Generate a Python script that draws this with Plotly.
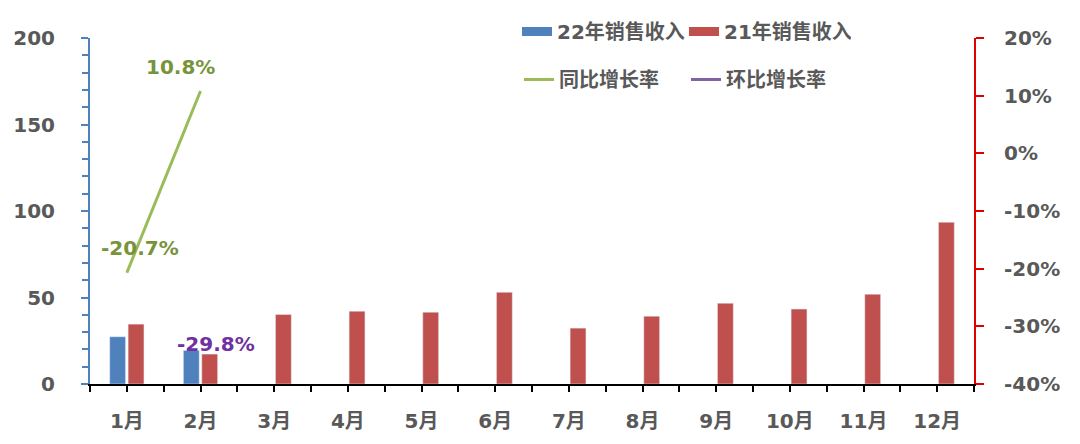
import plotly.graph_objects as go

months = ["1月", "2月", "3月", "4月", "5月", "6月", "7月", "8月", "9月", "10月", "11月", "12月"]
sales_22 = [27.3, 19.4, None, None, None, None, None, None, None, None, None, None]
sales_21 = [34.6, 17.3, 40.2, 42.1, 41.5, 53.0, 32.3, 39.2, 46.7, 43.3, 51.9, 93.5]
yoy = [-20.7, 10.8, None, None, None, None, None, None, None, None, None, None]
mom = [None, -29.8, None, None, None, None, None, None, None, None, None, None]
left_ticks = [0, 50, 100, 150, 200]
right_ticks = [-40, -30, -20, -10, 0, 10, 20]
right_labels = [f"{v}%" for v in right_ticks]

xs = list(range(len(months)))
FONT = "DejaVu Sans, Noto Sans CJK SC"
GRAY = "#595959"
BLUE, RED, GREEN, PURPLE = "#4F81BD", "#C0504D", "#9BBB59", "#8064A2"

fig = go.Figure()
fig.add_trace(go.Bar(x=xs, y=sales_22, name="22年销售收入", marker_color=BLUE,
                     showlegend=False, legendgroup="b22"))
fig.add_trace(go.Bar(x=xs, y=sales_21, name="21年销售收入", marker_color=RED,
                     showlegend=False, legendgroup="b21"))
# legend keys drawn as wide flat swatches (like the reference)
fig.add_trace(go.Scatter(x=[None], y=[None], name="22年销售收入", mode="lines",
                         line=dict(color=BLUE, width=9), legend="legend", legendgroup="b22"))
fig.add_trace(go.Scatter(x=[None], y=[None], name="21年销售收入", mode="lines",
                         line=dict(color=RED, width=9), legend="legend", legendgroup="b21"))
fig.add_trace(go.Scatter(x=xs, y=yoy, name="同比增长率", mode="lines", yaxis="y2",
                         line=dict(color=GREEN, width=3), legend="legend2"))
fig.add_trace(go.Scatter(x=xs, y=mom, name="环比增长率", mode="lines", yaxis="y2",
                         line=dict(color=PURPLE, width=3), legend="legend2"))

annotations = []
yoy_shift = [(13, 25), (-20, 24)]
for i, v in enumerate(yoy):
    if v is not None:
        dx, dy = yoy_shift[i]
        annotations.append(dict(x=xs[i], y=v, xref="x", yref="y2", text=f"{v:.1f}%",
                                showarrow=False, xshift=dx, yshift=dy,
                                font=dict(family=FONT, size=20, color="#77933C", weight="bold")))
for i, v in enumerate(mom):
    if v is not None:
        annotations.append(dict(x=xs[i], y=v, xref="x", yref="y2", text=f"{v:.1f}%",
                                showarrow=False, xshift=15, yshift=-19,
                                font=dict(family=FONT, size=20, color="#7030A0", weight="bold")))

tickfont = dict(family=FONT, size=20, color=GRAY, weight="bold")
legfont = dict(family=FONT, size=20, color=GRAY, weight="bold")

# page body adds an 8px offset, so margins are compensated
ML, MR, MT, MB = 82, 114, 30, 68
W, H = 1080, 444
PW, PH = W - ML - MR, H - MT - MB

fig.update_layout(
    width=W, height=H,
    margin=dict(l=ML, r=MR, t=MT, b=MB, autoexpand=False),
    plot_bgcolor="white", paper_bgcolor="white",
    barmode="group", bargap=0.5, bargroupgap=0.14,
    showlegend=True,
    annotations=annotations,
    xaxis=dict(range=[-0.5, 11.5], tickvals=xs, ticktext=months, showgrid=False,
               showline=True, linecolor="black", linewidth=2,
               ticks="outside", ticklen=6, tickcolor="black", tickwidth=2,
               minor=dict(dtick=0.5, tick0=-0.5, ticks="outside", ticklen=6,
                          tickcolor="black", tickwidth=2, showgrid=False),
               tickfont=tickfont, ticklabelstandoff=12, zeroline=False),
    yaxis=dict(range=[0, 200], tickvals=left_ticks, showgrid=False, zeroline=False,
               showline=True, linecolor=BLUE, linewidth=2,
               ticks="outside", ticklen=7, tickcolor=BLUE, tickwidth=2,
               minor=dict(dtick=10, ticks="outside", ticklen=6, tickcolor=BLUE,
                          tickwidth=1.5, showgrid=False),
               tickfont=tickfont, ticklabelstandoff=22),
    yaxis2=dict(range=[-40, 20], tickvals=right_ticks, ticktext=right_labels,
                overlaying="y", side="right",
                showgrid=False, zeroline=False,
                showline=True, linecolor="#E00000", linewidth=2,
                ticks="outside", ticklen=8, tickcolor="#E00000", tickwidth=2,
                tickfont=tickfont, ticklabelstandoff=16),
    legend=dict(orientation="h", xref="paper", yref="paper",
                x=(509 - ML) / PW, y=(MT + PH - 4) / PH,
                xanchor="left", yanchor="top", entrywidth=122, entrywidthmode="pixels",
                font=legfont, bgcolor="rgba(0,0,0,0)", traceorder="normal"),
    legend2=dict(orientation="h", xref="paper", yref="paper",
                 x=(511 - ML) / PW, y=(MT + PH - 52) / PH,
                 xanchor="left", yanchor="top", entrywidth=122, entrywidthmode="pixels",
                 font=legfont, bgcolor="rgba(0,0,0,0)", traceorder="normal"),
)
fig.write_html("out.html")
